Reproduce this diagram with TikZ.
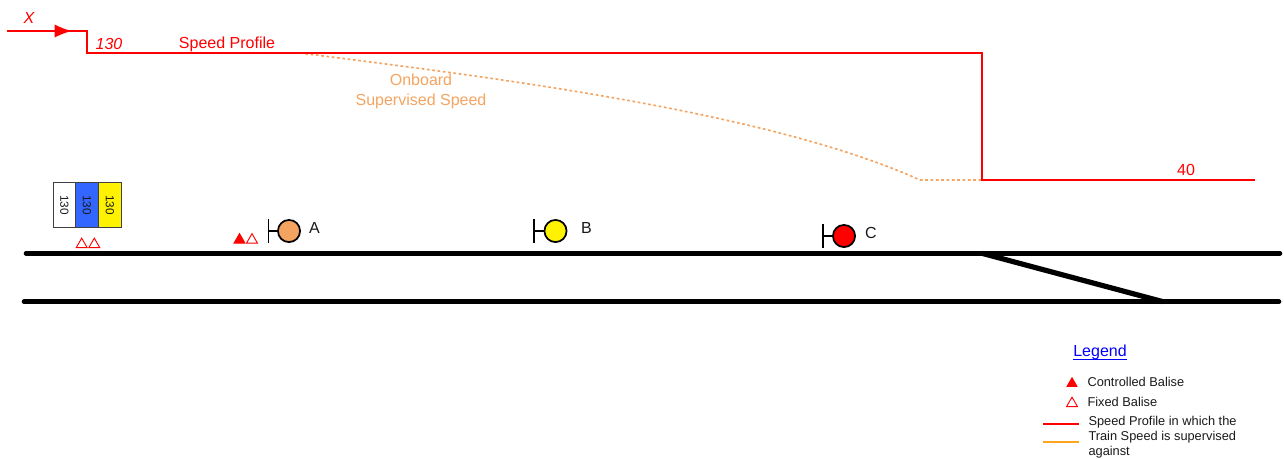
\documentclass[tikz,border=0pt]{standalone}
\usepackage{fontspec}
\setmainfont{Liberation Sans}
\usetikzlibrary{arrows.meta,shapes.geometric}
\definecolor{sigorange}{RGB}{244,164,96}
\definecolor{profilered}{RGB}{255,0,0}
\definecolor{plaqueblue}{RGB}{51,102,255}
\definecolor{legendorange}{RGB}{255,165,30}
\definecolor{legendblue}{RGB}{0,0,255}
\definecolor{ink}{RGB}{25,25,25}
\tikzset{
  x=0.75pt,y=-0.75pt,
  profile/.style={draw=profilered,line width=1.5pt,line join=miter},
  supervised/.style={draw=sigorange,line width=1.25pt,dash pattern=on 2pt off 2pt},
  track/.style={draw=black,line width=3.4pt},
  txt/.style={inner sep=0pt,outer sep=0pt,font=\fontsize{12pt}{15pt}\selectfont},
  redtxt/.style={txt,text=profilered},
  orangetxt/.style={txt,text=sigorange,align=center},
  sigtxt/.style={txt,text=ink},
  legendtxt/.style={inner sep=0pt,outer sep=0pt,text=ink,align=left,font=\fontsize{9.6pt}{11.3pt}\selectfont},
  lamp/.style={circle,draw=black,line width=1.3pt,minimum size=16.6pt,inner sep=0pt},
  post/.style={draw=black,line width=1.3pt},
  plaque/.style={draw=black!75,line width=0.9pt,minimum width=17pt,minimum height=33.5pt,inner sep=0pt,outer sep=0pt},
  plaquetxt/.style={rotate=-90,font=\fontsize{8.8pt}{10pt}\selectfont,text=ink},
  fixed/.style={draw=profilered,line width=0.7pt,fill=white,regular polygon,regular polygon sides=3,inner sep=0pt,minimum size=9.5pt},
  controlled/.style={fixed,fill=profilered},
}
\begin{document}
\begin{tikzpicture}
\useasboundingbox (0,0) rectangle (1284,458);
% speed profile
\coordinate (p0) at (7,31);
\coordinate (p1) at (87,31);
\coordinate (p2) at (87,53);
\coordinate (p3) at (982,53);
\coordinate (p4) at (982,180);
\coordinate (p5) at (1255,180);
\coordinate (ah) at (72,31);
\coordinate (s0) at (300,53);
\coordinate (s1) at (920,180);
\coordinate (t0) at (848,53);
\coordinate (t1) at (917,53);
\draw[supervised] (s0) .. controls (480,76) and (765,110) .. (s1) -- (p4);
\draw[profile] (p0)--(p1)--(p2)--(p3)--(p4)--(p5);
\draw[profile] (t0)--(t1);
\draw[profile,-{Latex[length=13pt,width=10pt]}] (p0)--(ah);
\node[redtxt,font=\fontsize{12pt}{14pt}\itshape] (x) at (29,18) {X};
\node[redtxt,font=\fontsize{12pt}{14pt}\itshape] (v130) at (109,44) {130};
\node[redtxt] (sp) at (227,44) {Speed Profile};
\node[redtxt] (v40) at (1186,170) {40};
\node[orangetxt] (oss) at (421,91) {Onboard\\Supervised Speed};
% plaque
\node[plaque,fill=white] (pw) at (64.5,205) {};
\node[plaque,fill=plaqueblue] (pb) at (87,205) {};
\node[plaque,fill=yellow] (py) at (110,205) {};
\node[plaquetxt] at (pw) {130};
\node[plaquetxt] at (pb) {130};
\node[plaquetxt] at (py) {130};
% balises
\node[fixed] (b1) at (81.7,244.5) {};
\node[fixed] (b2) at (94.3,244.5) {};
\node[controlled] (b3) at (239.5,240) {};
\node[fixed] (b4) at (252,240) {};
% signals
\node[lamp,fill=sigorange] (la) at (289,231) {};
\coordinate (pa) at (268.5,231);
\coordinate (pat) at (268.5,219);
\coordinate (pab) at (268.5,243);
\draw[post] (pat)--(pab) (pa)--(la);
\node[sigtxt] (ta) at (314.5,228) {A};
\node[lamp,fill=yellow] (lb) at (555.5,231) {};
\coordinate (pb0) at (534,231);
\coordinate (pbt) at (534,219);
\coordinate (pbb) at (534,243);
\draw[post] (pbt)--(pbb) (pb0)--(lb);
\node[sigtxt] (tb) at (586.5,228) {B};
\node[lamp,fill=profilered] (lc) at (844,236) {};
\coordinate (pc) at (823,236);
\coordinate (pct) at (823,224);
\coordinate (pcb) at (823,248);
\draw[post] (pct)--(pcb) (pc)--(lc);
\node[sigtxt] (tc) at (871,233) {C};
% tracks
\coordinate (t1a) at (26,253.3);
\coordinate (t1b) at (1280,253.3);
\coordinate (t2a) at (24,301.7);
\coordinate (t2b) at (1279,301.7);
\coordinate (sw0) at (982,253.3);
\coordinate (sw1) at (1163,301.7);
\draw[track,line cap=round] (t1a)--(t1b);
\draw[track,line cap=round] (t2a)--(t2b);
\draw[track,line width=3.9pt] (sw0)--(sw1);
% legend
\node[inner sep=0pt,text=legendblue,font=\fontsize{12pt}{14pt}\selectfont] (lg) at (1100,352) {Legend};
\coordinate (u0) at (1073,359.5);
\coordinate (u1) at (1127,359.5);
\draw[draw=legendblue,line width=0.8pt] (u0)--(u1);
\node[controlled,minimum size=8.5pt] (lb1) at (1072,383.5) {};
\node[legendtxt,anchor=west] (lt1) at (1087.5,382) {Controlled Balise};
\node[fixed] (lb2) at (1072,403.5) {};
\node[legendtxt,anchor=west] (lt2) at (1087.5,402) {Fixed Balise};
\coordinate (l1a) at (1043,424);
\coordinate (l1b) at (1079,424);
\coordinate (l2a) at (1043,442);
\coordinate (l2b) at (1079,442);
\draw[draw=profilered,line width=1.5pt] (l1a)--(l1b);
\draw[draw=legendorange,line width=1.5pt] (l2a)--(l2b);
\node[legendtxt,anchor=north west] (lt3) at (1088.5,416) {Speed Profile in which the\\Train Speed is supervised\\against};
\end{tikzpicture}
\end{document}
